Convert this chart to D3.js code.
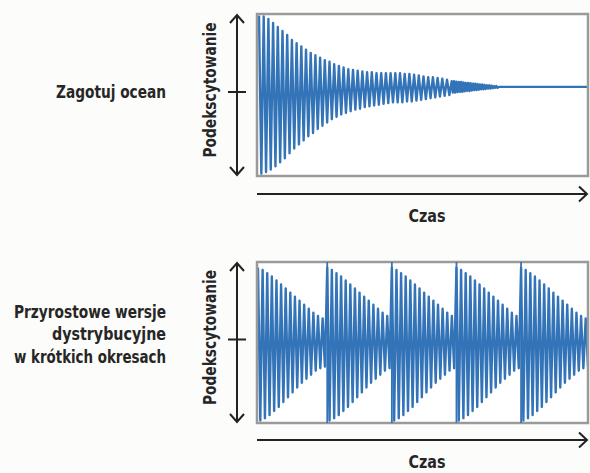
<!DOCTYPE html>
<html>
<head>
<meta charset="utf-8">
<script src="https://cdn.jsdelivr.net/npm/d3@7"></script>
<style>
  body { margin: 0; background: #fcfcfa; }
  text { font-family: "Liberation Sans Narrow", "DejaVu Sans Condensed", sans-serif; font-weight: bold; fill: #262626; }
</style>
</head>
<body>
<div id="chart"></div>
<script>
// peak values per cycle (top panel: "boil the ocean")
var oceanHigh = [0.88, 0.87, 0.84, 0.79, 0.74, 0.69, 0.64, 0.58, 0.54, 0.50,
                 0.46, 0.42, 0.39, 0.36, 0.33, 0.31, 0.28, 0.26, 0.24, 0.22,
                 0.21, 0.20, 0.19, 0.18, 0.18, 0.17, 0.17, 0.17, 0.17, 0.17,
                 0.17, 0.16, 0.16, 0.15, 0.14, 0.13, 0.12, 0.12, 0.11, 0.10, 0.09];
var oceanLow = [-1.07, -1.05, -1.02, -0.98, -0.93, -0.88, -0.82, -0.76, -0.71, -0.66,
                -0.61, -0.57, -0.52, -0.48, -0.44, -0.40, -0.37, -0.34, -0.32, -0.30,
                -0.28, -0.27, -0.25, -0.24, -0.23, -0.22, -0.21, -0.20, -0.19, -0.19,
                -0.19, -0.18, -0.18, -0.17, -0.16, -0.15, -0.14, -0.13, -0.12, -0.11, -0.10];
// fast, tiny wiggles before it flattens out
var oceanTail = [0.07, 0.07, 0.065, 0.06, 0.06, 0.055, 0.05, 0.05, 0.045, 0.04,
                 0.04, 0.035, 0.03, 0.03, 0.025, 0.02, 0.02, 0.015, 0.01, 0.01];
var oceanEnd = 70;

// bottom panel: short incremental releases
var releaseStarts = [0, 15, 29, 43, 57];
var releaseEnd = 71.5;
var releaseHigh = [0.93, 0.90, 0.86, 0.82, 0.77, 0.72, 0.67, 0.62, 0.57, 0.52, 0.47, 0.42, 0.37, 0.33, 0.30];
var releaseLow = [-0.97, -0.94, -0.90, -0.85, -0.80, -0.74, -0.68, -0.62, -0.56, -0.50, -0.45, -0.40, -0.35, -0.32, -0.30];

var leftLabels = [["Zagotuj ocean"], ["Przyrostowe wersje", "dystrybucyjne", "w krótkich okresach"]];
var yTitle = "Podekscytowanie";
var xTitle = "Czas";

var W = 590, H = 473;
var blue = "#3373b8", ink = "#222";

var svg = d3.select("#chart").append("svg")
    .attr("width", W).attr("height", H);

var panels = [
  {top: 14, bottom: 176, left: 257, right: 589, axisY: 194},
  {top: 262, bottom: 423, left: 257, right: 589, axisY: 440}
];

// build series from the arrays
var oceanData = [];
oceanHigh.forEach(function(h, k) {
  oceanData.push({t: k, v: h});
  oceanData.push({t: k + 0.5, v: oceanLow[k]});
});
var t0 = oceanHigh.length;
oceanTail.forEach(function(a, j) {
  oceanData.push({t: t0 + j * 0.5, v: a});
  oceanData.push({t: t0 + j * 0.5 + 0.25, v: -a});
});
oceanData.push({t: t0 + oceanTail.length * 0.5, v: 0});
oceanData.push({t: oceanEnd, v: 0});

var releaseData = [];
releaseStarts.forEach(function(s, i) {
  var end = i < releaseStarts.length - 1 ? releaseStarts[i + 1] : releaseEnd;
  for (var k = 0; s + k < end; k++) {
    releaseData.push({t: s + k, v: releaseHigh[k]});
    releaseData.push({t: s + k + 0.5, v: releaseLow[k]});
  }
});

var x1 = d3.scaleLinear().domain([0, oceanEnd]).range([259, 588]);
var y1 = d3.scaleLinear().domain([-1.1, 0.9]).range([176, 14]);
var x2 = d3.scaleLinear().domain([0, releaseEnd]).range([258, 588]);
var y2 = d3.scaleLinear().domain([-1, 1]).range([423, 262]);

function drawPanel(p, i, xs, ys, data) {
  var g = svg.append("g");

  g.append("clipPath").attr("id", "clip" + i)
    .append("rect")
      .attr("x", p.left).attr("y", p.top)
      .attr("width", p.right - p.left).attr("height", p.bottom - p.top);

  g.append("rect")
    .attr("x", p.left).attr("y", p.top)
    .attr("width", p.right - p.left - 1).attr("height", p.bottom - p.top)
    .attr("fill", "#fff");

  var line = d3.line()
    .x(function(d) { return xs(d.t); })
    .y(function(d) { return ys(d.v); });

  g.append("path")
    .datum(data)
    .attr("clip-path", "url(#clip" + i + ")")
    .attr("fill", "none")
    .attr("stroke", blue)
    .attr("stroke-width", 2.4)
    .attr("stroke-linejoin", "round")
    .attr("d", line);

  // frame
  g.append("rect")
    .attr("x", p.left).attr("y", p.top)
    .attr("width", p.right - p.left - 1).attr("height", p.bottom - p.top)
    .attr("fill", "none")
    .attr("stroke", "#9a9a9a")
    .attr("stroke-width", 2.5);

  // vertical arrow with centre tick
  var ax = 237, mid = (p.top + p.bottom) / 2 - 3;
  g.append("line")
    .attr("x1", ax).attr("x2", ax).attr("y1", p.top + 1).attr("y2", p.bottom - 1)
    .attr("stroke", ink).attr("stroke-width", 2);
  g.append("path")
    .attr("d", "M" + (ax - 7) + "," + (p.top + 9) + "L" + ax + "," + (p.top + 1) + "L" + (ax + 7) + "," + (p.top + 9))
    .attr("fill", "none").attr("stroke", ink).attr("stroke-width", 2);
  g.append("path")
    .attr("d", "M" + (ax - 7) + "," + (p.bottom - 9) + "L" + ax + "," + (p.bottom - 1) + "L" + (ax + 7) + "," + (p.bottom - 9))
    .attr("fill", "none").attr("stroke", ink).attr("stroke-width", 2);
  g.append("line")
    .attr("x1", ax - 9).attr("x2", ax + 9).attr("y1", mid).attr("y2", mid)
    .attr("stroke", ink).attr("stroke-width", 2);

  // horizontal time arrow
  g.append("line")
    .attr("x1", p.left).attr("x2", 587).attr("y1", p.axisY).attr("y2", p.axisY)
    .attr("stroke", ink).attr("stroke-width", 2);
  g.append("path")
    .attr("d", "M579," + (p.axisY - 7.5) + "L587," + p.axisY + "L579," + (p.axisY + 7.5))
    .attr("fill", "none").attr("stroke", ink).attr("stroke-width", 2);

  g.append("text")
    .attr("x", 427).attr("y", p.axisY + 28)
    .attr("text-anchor", "middle")
    .attr("font-size", 18)
    .attr("textLength", 37).attr("lengthAdjust", "spacingAndGlyphs")
    .text(xTitle);

  g.append("text")
    .attr("transform", "translate(216," + (mid - 2) + ") rotate(-90)")
    .attr("text-anchor", "middle")
    .attr("font-size", 18)
    .attr("textLength", 135).attr("lengthAdjust", "spacingAndGlyphs")
    .text(yTitle);
}

drawPanel(panels[0], 0, x1, y1, oceanData);
drawPanel(panels[1], 1, x2, y2, releaseData);

// release markers in the bottom panel
svg.append("g").selectAll("line")
  .data(releaseStarts.slice(1))
  .enter().append("line")
    .attr("x1", function(d) { return x2(d); })
    .attr("x2", function(d) { return x2(d); })
    .attr("y1", y2(-1)).attr("y2", y2(1))
    .attr("stroke", blue).attr("stroke-width", 1.8);

// labels on the left
var labelRows = [
  {y: [98], len: [110]},
  {y: [318, 340, 363], len: [152, 114, 152]}
];
leftLabels.forEach(function(lines, i) {
  lines.forEach(function(s, j) {
    svg.append("text")
      .attr("x", 166).attr("y", labelRows[i].y[j])
      .attr("text-anchor", "end")
      .attr("font-size", 18)
      .attr("textLength", labelRows[i].len[j]).attr("lengthAdjust", "spacingAndGlyphs")
      .text(s);
  });
});
</script>
</body>
</html>
